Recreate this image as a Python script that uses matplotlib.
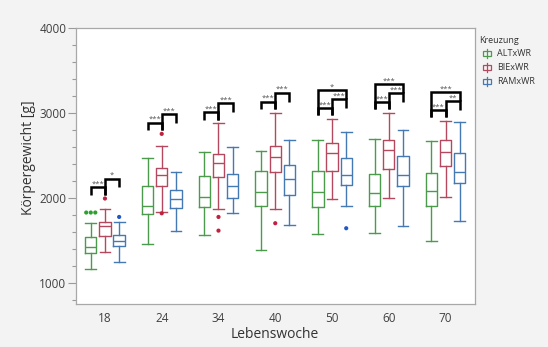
import matplotlib
matplotlib.use('Agg')
import matplotlib.pyplot as plt
from matplotlib.lines import Line2D
from matplotlib.patches import Rectangle
from matplotlib.ticker import MultipleLocator

plt.rcParams['font.family'] = ['Open Sans', 'DejaVu Sans']

# ---------------- data ----------------
weeks = ['18', '24', '34', '40', '50', '60', '70']
crosses = ['ALTxWR', 'BIExWR', 'RAMxWR']

alt_whislo = [1162, 1465, 1571, 1394, 1583, 1595, 1492]
alt_q1     = [1359, 1819, 1901, 1909, 1893, 1913, 1909]
alt_med    = [1425, 1905, 2019, 2074, 2078, 2066, 2085]
alt_q3     = [1543, 2144, 2259, 2318, 2318, 2279, 2302]
alt_whishi = [1713, 2474, 2538, 2553, 2687, 2695, 2668]
alt_fliers = [[1831, 1831, 1831], [], [], [], [], [], []]

bie_whislo = [1366, 1838, 1878, 1873, 1991, 1999, 2019]
bie_q1     = [1555, 2144, 2247, 2306, 2318, 2341, 2376]
bie_med    = [1677, 2270, 2420, 2486, 2533, 2565, 2545]
bie_q3     = [1725, 2361, 2522, 2609, 2648, 2680, 2683]
bie_whishi = [1878, 2609, 2880, 3005, 2931, 3001, 2907]
bie_fliers = [[1996], [2757, 1822], [1779, 1618], [1705], [], [], []]

ram_whislo = [1248, 1610, 1831, 1681, 1905, 1669, 1736]
ram_q1     = [1433, 1890, 2003, 2043, 2153, 2144, 2176]
ram_med    = [1492, 1991, 2144, 2223, 2270, 2267, 2314]
ram_q3     = [1571, 2094, 2290, 2385, 2471, 2498, 2526]
ram_whishi = [1725, 2309, 2597, 2680, 2774, 2801, 2892]
ram_fliers = [[1779], [], [], [], [1646], [], []]

# significance labels per week
sig_alt_bie = ['***', '***', '***', '***', '***', '***', '***']
sig_bie_ram = ['*', '***', '***', '***', '***', '***', '**']
sig_alt_ram = ['', '', '', '', '*', '***', '***']

y_ticks = [1000, 2000, 3000, 4000]

# ---------------- style ----------------
box_colors = ['#4c9a4c', '#b5485f', '#4479b3']
flier_colors = ['#2ea02e', '#c0213f', '#2357c4']
offset = 0.25
box_w = 0.2

fig = plt.figure(figsize=(5.48, 3.47), dpi=100, facecolor='#f3f3f3')
ax = fig.add_axes([76 / 548, 1 - 303.5 / 347, 398.5 / 548, 275.2 / 347])
ax.set_facecolor('white')

series = [
    (alt_whislo, alt_q1, alt_med, alt_q3, alt_whishi, alt_fliers),
    (bie_whislo, bie_q1, bie_med, bie_q3, bie_whishi, bie_fliers),
    (ram_whislo, ram_q1, ram_med, ram_q3, ram_whishi, ram_fliers),
]

for k, (wlo, q1, med, q3, whi, fl) in enumerate(series):
    stats = []
    pos = []
    for i in range(len(weeks)):
        stats.append(dict(whislo=wlo[i], q1=q1[i], med=med[i], q3=q3[i],
                          whishi=whi[i], fliers=[]))
        pos.append(i + (k - 1) * offset)
    c = box_colors[k]
    ax.bxp(stats, positions=pos, widths=box_w, showfliers=False,
           capwidths=box_w * 0.95,
           boxprops=dict(color=c, linewidth=1.0),
           whiskerprops=dict(color=c, linewidth=1.0),
           capprops=dict(color=c, linewidth=1.0),
           medianprops=dict(color=c, linewidth=1.0),
           manage_ticks=False)
    # outliers (spread duplicates horizontally like JMP)
    for i in range(len(weeks)):
        vals = fl[i]
        for v in set(vals):
            n = vals.count(v)
            for j in range(n):
                xx = i + (k - 1) * offset + (j - (n - 1) / 2) * 0.08
                ax.scatter([xx], [v], s=9, color=flier_colors[k],
                           edgecolors='none', zorder=3)

# significance brackets
gap, leg, step = 45, 85, 105


def bracket(xa, xb, h, la, lb, txt):
    ax.plot([xa, xa, xb, xb], [la, h, h, lb], color='black', lw=1.8,
            solid_joinstyle='miter', solid_capstyle='butt', zorder=4,
            clip_on=False)
    ax.annotate(txt, ((xa + xb) / 2, h), xytext=(0, 1.2),
                textcoords='offset points', ha='center', va='baseline',
                fontsize=5.5, color='#555555')


for i in range(len(weeks)):
    tops = []
    for k, s in enumerate(series):
        tops.append(s[4][i])
        tops.extend(s[5][i])
    base = max(tops) + gap
    l1 = base + leg
    l2 = l1 + step
    l3 = l2 + step
    xg, xr, xb = i - offset, i, i + offset
    bracket(xg, xr, l1, base, base, sig_alt_bie[i])
    bracket(xr, xb, l2, base, l1, sig_bie_ram[i])
    if sig_alt_ram[i]:
        bracket(xg, xb, l3, base, l2, sig_alt_ram[i])

# axes
ax.set_xlim(-0.51, len(weeks) - 0.49)
ax.set_ylim(760, 4000)
ax.set_xticks(range(len(weeks)))
ax.set_xticklabels(weeks)
ax.set_yticks(y_ticks)
ax.yaxis.set_minor_locator(MultipleLocator(200))
ax.tick_params(axis='x', length=0, pad=6, labelsize=8.5, labelcolor='#404040')
ax.tick_params(axis='y', which='major', length=6, width=0.8, color='#9a9a9a',
               pad=1, labelsize=8.5, labelcolor='#404040')
ax.tick_params(axis='y', which='minor', length=3, width=0.8, color='#9a9a9a')
for sp in ax.spines.values():
    sp.set_color('#a8a8a8')
    sp.set_linewidth(0.9)
ax.set_xlabel('Lebenswoche', fontsize=10, color='#333333')
ax.set_ylabel('Körpergewicht [g]', fontsize=10, color='#333333')
ax.xaxis.set_label_coords(0.5, (303.5 - 335) / 275.2 - 0.0)
ax.xaxis.label.set_va('center')
ax.yaxis.set_label_coords((28.3 - 76) / 398.5, (303.5 - 158) / 275.2)
ax.yaxis.label.set_va('center')

# legend (manual)
W, H = 548.0, 347.0


def fx(px):
    return px / W


def fy(py):
    return 1 - py / H


fig.text(fx(479), fy(40.7), 'Kreuzung', fontsize=6.5, color='#333333',
         va='center', ha='left')
row_y = [53.5, 67.5, 81.5]
for k, name in enumerate(crosses):
    c = box_colors[k]
    cx, cy = 487.0, row_y[k]
    fig.add_artist(Line2D([fx(cx), fx(cx)], [fy(cy - 4.5), fy(cy + 4.5)],
                          color=c, lw=0.9, transform=fig.transFigure))
    fig.add_artist(Rectangle((fx(cx - 4), fy(cy + 2.2)), 8 / W, 4.4 / H,
                             fill=False, edgecolor=c, lw=0.9,
                             transform=fig.transFigure))
    fig.text(fx(497), fy(cy), name, fontsize=6.5, color='#333333',
             va='center', ha='left')

fig.savefig('out.png', dpi=100, facecolor=fig.get_facecolor())
